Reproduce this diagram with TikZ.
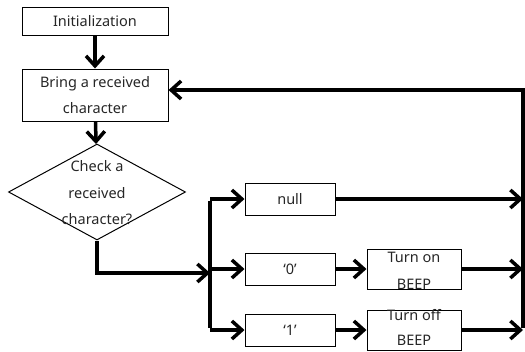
\documentclass[tikz,border=0pt]{standalone}
\usepackage{fontspec}
\setmainfont{Noto Sans}
\usetikzlibrary{arrows.meta,shapes.geometric}
\begin{document}
\begin{tikzpicture}[x=1pt,y=-1pt,
  lbl/.style={align=center,inner sep=0pt,text=black!85,
    font=\fontsize{14.5}{26.5}\selectfont},
  box/.style={draw,line width=1pt,inner sep=0pt,lbl},
  flow/.style={line width=3.5pt,-{Straight Barb[length=10pt,width=18pt]}},
  wire/.style={line width=3.5pt}]
\useasboundingbox (0,0) rectangle (525,351);
% process boxes
\node[box,minimum width=146pt,minimum height=28pt] (init) at (95,21) {Initialization};
\node[box,minimum width=146pt,minimum height=52pt] (bring) at (95,95) {Bring a received\\character};
\node[draw,line width=1pt,shape=diamond,minimum width=177pt,minimum height=96pt,inner sep=0pt] (check) at (97,192) {};
\node[lbl] (checktxt) at (97,193) {Check a\\received\\character?};
\node[box,minimum width=90pt,minimum height=32pt] (null) at (290,199) {null};
\node[box,minimum width=90pt,minimum height=32pt] (zero) at (290,269) {‘0’};
\node[box,minimum width=90pt,minimum height=32pt] (one) at (290,330) {‘1’};
\node[box,minimum width=94pt,minimum height=40pt] (on) at (414,269) {};
\node[box,minimum width=94pt,minimum height=40pt] (off) at (414,330) {};
\node[lbl] (ontxt) at (414,271) {Turn on\\BEEP};
\node[lbl,font=\fontsize{14.5}{25}\selectfont] (offtxt) at (414,327) {Turn off\\BEEP};
% junction points
\coordinate (down) at (97,273);
\coordinate (bus) at (210,273);
\coordinate (bustop) at (210,199);
\coordinate (busmid) at (210,269);
\coordinate (busbot) at (210,330);
\coordinate (rnull) at (523,199);
\coordinate (rzero) at (523,269);
\coordinate (rone) at (523,330);
\coordinate (rtop) at (523,90);
\coordinate (back) at (bring.east |- rtop);
% connectors
\draw[flow] (init) -- (bring);
\draw[flow] (bring) -- (check);
\draw[flow] (check.south) -- (down) -- (bus);
\draw[wire] ([yshift=-1.75pt]bustop) -- ([yshift=1.75pt]busbot);
\draw[flow] (bustop) -- (null);
\draw[flow] (busmid) -- (zero);
\draw[flow] (busbot) -- (one);
\draw[flow] (zero) -- (on);
\draw[flow] (one) -- (off);
\draw[flow] (null) -- (rnull);
\draw[flow] (on) -- (rzero);
\draw[flow] (off) -- (rone);
\draw[flow] ([yshift=1.75pt]rone) -- (rtop) -- (back);
\end{tikzpicture}
\end{document}
